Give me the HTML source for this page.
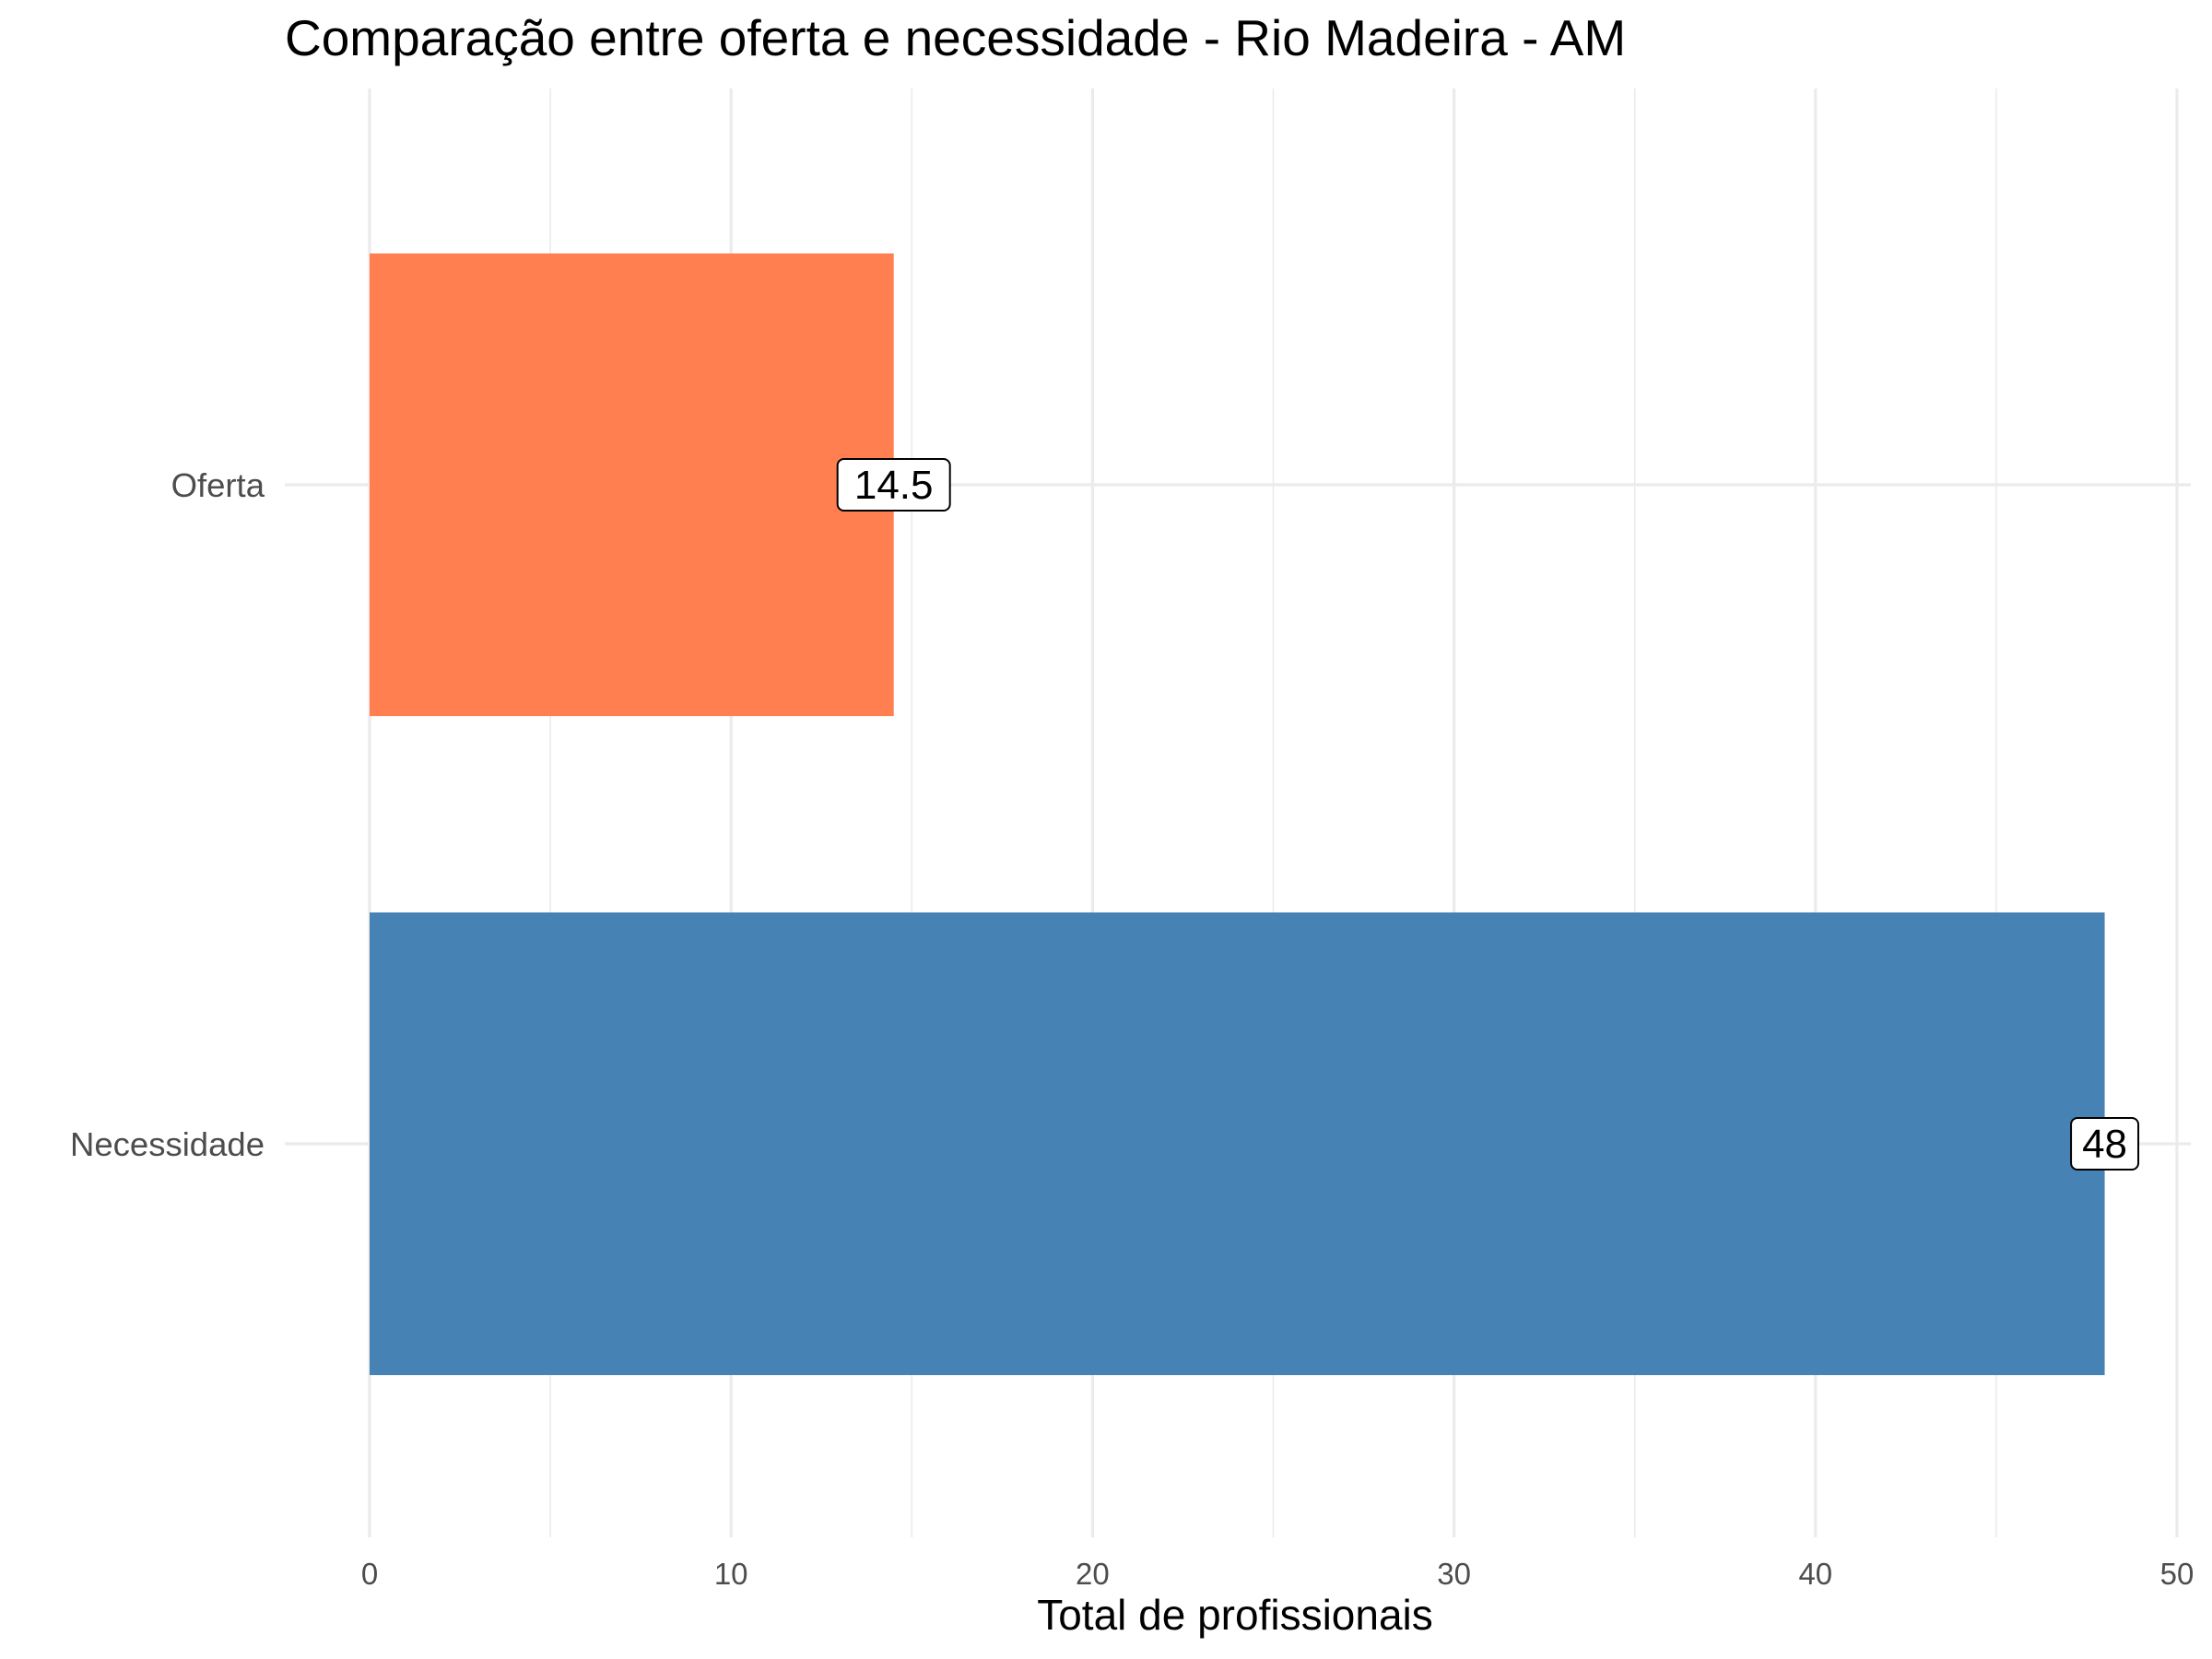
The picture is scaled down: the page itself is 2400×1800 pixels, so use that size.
<!DOCTYPE html>
<html><head><meta charset="utf-8"><style>
html,body{margin:0;padding:0;background:#fff;}
svg{display:block;font-family:"Liberation Sans",Arial,sans-serif;}
</style></head><body>
<svg id="chart" width="2400" height="1800" viewBox="0 0 2400 1800">
<text x="309" y="60" font-size="55" fill="#000">Comparação entre oferta e necessidade - Rio Madeira - AM</text>
<g id="grid"></g>
<g id="bars"></g>
<g id="labels"></g>
<g id="axes"></g>
<text x="1340" y="1768" font-size="46" text-anchor="middle" fill="#000">Total de profissionais</text>
</svg>
<script>
const categories = ["Oferta", "Necessidade"];
const values = [14.5, 48];
const valueLabels = ["14.5", "48"];
const colors = ["#FF7F50", "#4682B4"];
const xTicks = [0, 10, 20, 30, 40, 50];
const xMinor = [5, 15, 25, 35, 45];

const NS = "http://www.w3.org/2000/svg";
const x0 = 401, x50 = 2362, panelL = 309, panelR = 2377, panelT = 96, panelB = 1668;
const xScale = v => x0 + (x50 - x0) * v / 50;
const yCenter = i => [526, 1241][i];
const bandH = 502;
function mk(tag, attrs, parent) {
  const e = document.createElementNS(NS, tag);
  for (const k in attrs) e.setAttribute(k, attrs[k]);
  parent.appendChild(e);
  return e;
}
const grid = document.getElementById('grid');
xMinor.forEach(v => {
  const l = mk('line', {x1: xScale(v), x2: xScale(v), y1: panelT, y2: panelB, stroke: '#ebebeb', 'stroke-width': 1.6}, grid);
  
  
});
xTicks.forEach(v => {
  const l = mk('line', {x1: xScale(v), x2: xScale(v), y1: panelT, y2: panelB, stroke: '#ebebeb', 'stroke-width': 3.2}, grid);
  
  
});
categories.forEach((c, i) => {
  const l = mk('line', {x1: panelL, x2: panelR, y1: yCenter(i), y2: yCenter(i), stroke: '#ebebeb', 'stroke-width': 3.2}, grid);
  
  
});
const bars = document.getElementById('bars');
const labels = document.getElementById('labels');
const axes = document.getElementById('axes');
categories.forEach((c, i) => {
  const b = mk('rect', {x: xScale(0), y: yCenter(i) - bandH / 2, width: xScale(values[i]) - xScale(0), height: bandH, fill: colors[i]}, bars);
  
  
  const t = valueLabels[i];
  const w = t.length * 24.5 + 24;
  const r = mk('rect', {x: xScale(values[i]) - w / 2, y: yCenter(i) - 28, width: w, height: 56, rx: 7, fill: '#fff', stroke: '#000', 'stroke-width': 2}, labels);
  
  
  const tx = mk('text', {x: xScale(values[i]), y: yCenter(i) + 15, 'font-size': 44, 'text-anchor': 'middle', fill: '#000'}, labels);
  tx.textContent = t;
  
  
  const yl = mk('text', {x: 287, y: yCenter(i) + 13, 'font-size': 36.5, 'text-anchor': 'end', fill: '#4d4d4d'}, axes);
  yl.textContent = c;
  
  
});
xTicks.forEach(v => {
  const t = mk('text', {x: xScale(v), y: 1719, 'font-size': 33, 'text-anchor': 'middle', fill: '#4d4d4d'}, axes);
  t.textContent = String(v);
  
  
});
</script>
</body></html>
